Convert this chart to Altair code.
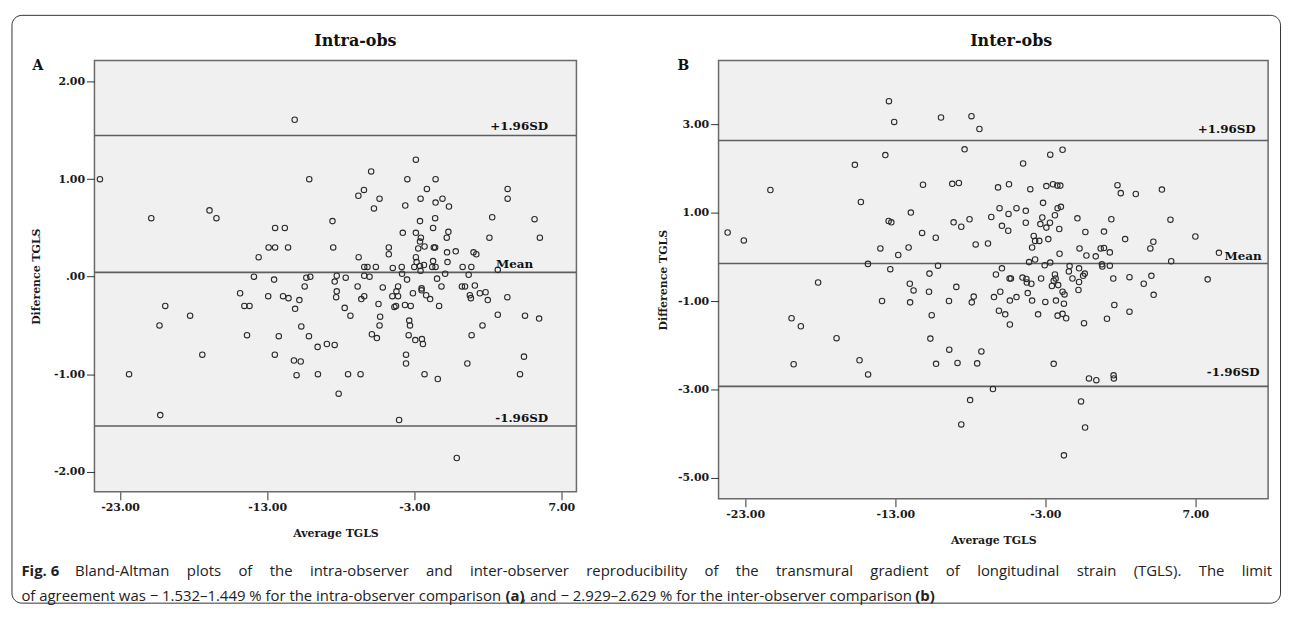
import altair as alt
import pandas as pd

# ---------------- data ----------------
# Panel A (intra-observer): average TGLS vs difference TGLS
A_AVG = [-11.13, -24.37, -10.14, -20.88, -16.92, -16.45, -12.46, -11.80, -12.90, -12.46,
         -11.58, -13.58, -13.90, -12.53, -10.34, -10.07, -10.45, -14.84, -12.93, -11.92,
         -11.55, -10.81, -11.10, -14.55, -14.20, -19.93, -20.32, -18.24, -10.68, -14.37,
         -12.21, -10.16, -17.41, -12.48, -9.57, -11.18, -10.72, -11.00, -9.55, -22.39,
         -20.27, -2.89, -5.93, -3.47, -1.55, -2.14, -6.80, -6.42, -5.36, -5.74,
         -2.57, -1.55, -1.08, -0.64, -3.61, -8.56, -2.61, -1.58, -1.72, -3.78,
         -2.89, -0.68, -0.79, -2.55, -2.61, -2.73, -2.30, -1.67, -1.58, -8.51,
         -6.78, -4.73, -4.73, -0.77, -0.18, 1.03, 1.22, -2.89, -2.84, -1.72,
         -0.74, -6.40, -6.18, -5.61, -4.46, -3.85, -3.00, -2.61, -2.57, -2.34,
         -1.78, -1.55, 0.29, 0.88, -0.90, 0.70, -3.83, -6.40, -6.04, -8.27,
         -8.41, -7.66, -3.49, -1.45, -6.85, -5.14, -4.10, -1.15, 0.24, 0.45,
         1.12, -8.27, -8.31, -7.73, -7.34, -6.60, -6.40, -5.43, -4.49, -4.10,
         -4.21, -4.35, -4.24, -3.63, -3.24, -3.09, -2.50, -2.50, -2.19, -1.92,
         -1.31, 0.78, 0.85, 1.46, 1.85, 2.00, -5.32, -5.36, -3.34, -3.29,
         -3.38, -5.88, -5.54, -2.93, -2.48, -2.41, 0.90, 1.64, -8.94, -8.41,
         -7.50, -6.65, -3.56, -3.56, -2.30, -1.40, 0.61, 5.18, 5.54, 3.35,
         3.35, 2.30, 2.11, 2.68, 3.33, 2.68, 4.53, 5.49, 4.46, 4.19,
         -4.03, -0.11, -8.14]
A_DIFF = [1.61, 1.00, 1.00, 0.60, 0.68, 0.60, 0.50, 0.50, 0.30, 0.30,
          0.30, 0.20, 0.00, -0.03, -0.01, 0.00, -0.10, -0.17, -0.20, -0.20,
          -0.22, -0.24, -0.33, -0.30, -0.30, -0.30, -0.50, -0.40, -0.51, -0.60,
          -0.61, -0.61, -0.80, -0.80, -0.72, -0.86, -0.87, -1.01, -1.00, -1.00,
          -1.42, 1.20, 1.08, 1.00, 1.00, 0.90, 0.83, 0.89, 0.80, 0.70,
          0.80, 0.76, 0.80, 0.72, 0.73, 0.57, 0.57, 0.60, 0.50, 0.45,
          0.45, 0.46, 0.40, 0.40, 0.36, 0.29, 0.31, 0.30, 0.30, 0.30,
          0.20, 0.30, 0.23, 0.25, 0.26, 0.25, 0.23, 0.20, 0.15, 0.16,
          0.15, 0.10, 0.10, 0.10, 0.09, 0.10, 0.10, 0.11, 0.06, 0.12,
          0.10, 0.10, 0.10, 0.10, 0.03, 0.02, 0.03, 0.01, 0.00, 0.01,
          -0.05, -0.01, -0.03, -0.02, -0.10, -0.11, -0.10, -0.10, -0.10, -0.10,
          -0.09, -0.15, -0.21, -0.32, -0.40, -0.23, -0.20, -0.28, -0.20, -0.20,
          -0.15, -0.31, -0.30, -0.29, -0.30, -0.17, -0.12, -0.14, -0.19, -0.23,
          -0.30, -0.19, -0.22, -0.17, -0.16, -0.24, -0.41, -0.50, -0.45, -0.50,
          -0.60, -0.59, -0.63, -0.65, -0.64, -0.69, -0.60, -0.50, -0.69, -0.70,
          -1.00, -1.00, -0.80, -0.89, -1.00, -1.05, -0.89, 0.59, 0.40, 0.90,
          0.80, 0.61, 0.40, 0.07, -0.21, -0.39, -0.40, -0.43, -0.82, -1.00,
          -1.47, -1.86, -1.20]

# Panel B (inter-observer)
B_AVG = [-13.42, -13.07, -9.95, -8.38, -13.66, -15.69, -21.32, -11.15, -9.20, -8.76,
         -15.29, -11.96, -13.44, -13.26, -24.17, -23.09, -11.21, -10.30, -9.11, -8.60,
         -13.99, -12.80, -12.11, -14.82, -13.33, -18.14, -12.03, -11.78, -10.72, -10.15,
         -10.75, -8.93, -13.88, -12.01, -9.42, -19.91, -19.29, -10.57, -16.91, -10.66,
         -9.40, -15.38, -19.77, -10.28, -8.85, -14.81, -8.60, -7.92, -7.39, -4.48,
         -2.67, -1.85, -6.15, -5.42, -4.00, -2.93, -2.49, -2.20, -2.00, -3.15,
         -6.05, -4.92, -4.30, -5.45, -2.18, -1.96, -2.36, -2.07, -3.20, -3.33,
         -2.69, -2.93, -4.30, -6.60, -5.89, -5.47, -0.86, -0.33, 0.91, 1.40,
         -8.05, -7.64, -6.82, -3.77, -3.68, -3.40, -3.88, -2.80, -2.05, -0.72,
         -0.26, 0.36, 0.69, 0.91, 1.30, -7.90, -7.77, -6.42, -6.00, -5.36,
         -4.92, -6.09, -5.67, -5.36, -7.26, -5.89, -6.29, -5.38, -5.29, -4.52,
         -4.26, -4.23, -3.93, -4.08, -3.68, -3.04, -2.67, -3.28, -2.36, -2.31,
         -2.44, -2.14, -2.56, -4.17, -3.88, -3.00, -2.29, -1.85, -1.72, -1.76,
         -3.48, -2.18, -1.85, -1.61, -0.42, 1.11, -1.38, -1.43, -1.19, -0.75,
         -0.37, -0.48, -0.75, -0.79, 0.77, 0.80, 1.30, 1.53, 1.60, 1.81,
         2.03, 3.03, 4.77, 5.34, 7.00, 8.57, 2.32, 4.20, 4.00, 5.39,
         7.82, 3.56, 4.07, 4.22, 2.61, 2.61, -7.54, -2.44, -0.09, 0.40,
         1.55, 1.57, -6.49, -8.01, -0.62, -0.35, -1.76]
B_DIFF = [3.52, 3.05, 3.15, 2.43, 2.30, 2.08, 1.51, 1.63, 1.65, 1.67,
          1.24, 1.00, 0.81, 0.78, 0.55, 0.37, 0.54, 0.43, 0.78, 0.68,
          0.19, 0.04, 0.21, -0.16, -0.28, -0.58, -0.61, -0.76, -0.38, -0.20,
          -0.79, -0.68, -1.00, -1.03, -1.00, -1.39, -1.57, -1.32, -1.84, -1.85,
          -2.10, -2.34, -2.43, -2.42, -2.40, -2.66, -3.79, 3.18, 2.89, 2.11,
          2.31, 2.42, 1.57, 1.64, 1.53, 1.60, 1.64, 1.61, 1.61, 1.22,
          1.10, 1.10, 1.04, 0.97, 1.10, 1.13, 0.94, 0.63, 0.89, 0.74,
          0.77, 0.66, 0.77, 0.90, 0.70, 0.59, 0.87, 0.56, 0.57, 0.85,
          0.85, 0.28, 0.30, 0.47, 0.36, 0.36, 0.21, 0.40, 0.07, 0.19,
          0.03, 0.01, 0.19, 0.20, 0.10, -1.03, -0.90, -0.91, -0.79, -0.99,
          -0.91, -1.22, -1.30, -1.53, -2.14, -0.26, -0.40, -0.49, -0.49, -0.47,
          -0.50, -0.58, -0.61, -0.12, -0.06, -0.19, -0.13, -0.49, -0.40, -0.49,
          -0.54, -0.64, -0.66, -0.82, -0.99, -1.02, -0.99, -0.79, -0.85, -1.06,
          -1.30, -1.33, -1.29, -1.39, -1.50, -1.40, -0.21, -0.33, -0.49, -0.26,
          -0.38, -0.43, -0.57, -0.75, -0.17, -0.22, -0.20, -0.49, -1.09, 1.62,
          1.44, 1.42, 1.52, 0.84, 0.46, 0.09, 0.40, 0.34, 0.19, -0.10,
          -0.51, -0.61, -0.43, -0.86, -0.46, -1.24, -2.41, -2.42, -2.75, -2.79,
          -2.68, -2.75, -2.99, -3.24, -3.27, -3.86, -4.49]

# reference lines (+1.96SD, mean, -1.96SD)
LINE_LABELS = ["+1.96SD", "Mean", "-1.96SD"]
A_LINES = [1.449, 0.044, -1.532]
B_LINES = [2.629, -0.15, -2.929]

X_TICKS = [-23, -13, -3, 7]
A_YTICKS = [-2, -1, 0, 1, 2]
B_YTICKS = [-5, -3, -1, 1, 3]

CAPTION_BOLD_1 = "Fig. 6"
CAPTION_1_WORDS = ["Bland-Altman", "plots", "of", "the", "intra-observer", "and", "inter-observer",
                   "reproducibility", "of", "the", "transmural", "gradient", "of", "longitudinal",
                   "strain", "(TGLS).", "The", "limit"]
CAPTION_2A = "of agreement was \u2212 1.532\u20131.449 % for the intra-observer comparison"
CAPTION_2B = "(a)"
CAPTION_2C = ", and \u2212 2.929\u20132.629 % for the inter-observer comparison"
CAPTION_2D = "(b)"

# ---------------- styling ----------------
SERIF = "DejaVu Serif"
SANS = "Open Sans"
LBL = "(datum.value < 0 ? '-' : '') + (datum.value == 0 ? '' : format(abs(datum.value), 'd')) + '.00'"
JUSTIFY_SPACE = "\u2003\u2009"   # widened word gap: first caption line is justified

A_W, A_H = 485, 434
B_W, B_H = 553, 441


def one(text):
    return pd.DataFrame({"t": [text]})


def panel(avg, diff, lines, xdom, ydom, yticks, w, h, title, title_x, letter, letter_x,
          ytitle, ytitle_pad, lab_x, lab_dy):
    pts = pd.DataFrame({"avg": avg, "diff": diff})
    x = alt.X("avg:Q", scale=alt.Scale(domain=xdom, nice=False, zero=False),
              axis=alt.Axis(values=X_TICKS, title="Average TGLS", labelExpr=LBL,
                            titlePadding=15))
    y = alt.Y("diff:Q", scale=alt.Scale(domain=ydom, nice=False, zero=False),
              axis=alt.Axis(values=yticks, title=ytitle, labelExpr=LBL,
                            titlePadding=ytitle_pad))
    points = alt.Chart(pts).mark_point(
        shape="circle", filled=False, size=30, stroke="#2a2a2a", strokeWidth=1.1, opacity=1
    ).encode(x=x, y=y)
    ldf = pd.DataFrame({"diff": lines})
    rules = alt.Chart(ldf).mark_rule(color="#5e5e5e", strokeWidth=1.6).encode(y="diff:Q")
    layers = [rules, points]
    for i, lab in enumerate(LINE_LABELS):
        layers.append(
            alt.Chart(pd.DataFrame({"diff": [lines[i]], "lab": [lab]})).mark_text(
                align="right", baseline="alphabetic", dy=lab_dy[i], font=SERIF,
                fontWeight="bold", fontSize=12, color="#111"
            ).encode(x=alt.value(lab_x[i]), y="diff:Q", text="lab:N")
        )
    layers.append(alt.Chart(one(letter)).mark_text(
        align="center", baseline="middle", font=SERIF, fontWeight="bold", fontSize=14,
        color="#111"
    ).encode(x=alt.value(letter_x), y=alt.value(6), text="t:N"))
    layers.append(alt.Chart(one(title)).mark_text(
        align="center", baseline="alphabetic", font=SERIF, fontWeight="bold", fontSize=16,
        color="#111"
    ).encode(x=alt.value(title_x), y=alt.value(-15), text="t:N"))
    return layers


la = panel(A_AVG, A_DIFF, A_LINES, [-24.743, 8.027], [-2.207, 2.217], A_YTICKS, A_W, A_H,
           "Intra-obs", 262.5, "A", -57, "Diference TGLS", 12,
           [456.5, 441.5, 456.5], [-5, -4, -4])
lb = panel(B_AVG, B_DIFF, B_LINES, [-24.775, 11.847], [-5.472, 4.438], B_YTICKS, B_W, B_H,
           "Inter-obs", 294.5, "B", -35.5, "Difference TGLS", 9,
           [540.5, 546.5, 544.5], [-7.5, -3.5, -10.5])

# caption and outer frame, drawn in panel A's coordinate space
frame = alt.Chart(one("")).mark_rect(
    fillOpacity=0, stroke="#333", strokeWidth=1, cornerRadius=10
).encode(x=alt.value(-83), x2=alt.value(1193.5), y=alt.value(-45.5), y2=alt.value(546))

cap_style = dict(align="left", baseline="middle", font=SANS, fontSize=15, color="#222")
cap_bold = dict(align="left", baseline="middle", font=SANS, fontSize=15, fontWeight="bold",
                color="#222")
LINE1_Y, LINE2_Y = 513.5, 539
c1 = alt.Chart(one(CAPTION_BOLD_1)).mark_text(**cap_bold).encode(
    x=alt.value(-73.5), y=alt.value(LINE1_Y), text="t:N")
c2 = alt.Chart(one(JUSTIFY_SPACE.join(CAPTION_1_WORDS))).mark_text(**cap_style).encode(
    x=alt.value(-19.5), y=alt.value(LINE1_Y), text="t:N")
c3 = alt.Chart(one(CAPTION_2A)).mark_text(**cap_style).encode(
    x=alt.value(-73.5), y=alt.value(LINE2_Y), text="t:N")
c4 = alt.Chart(one(CAPTION_2B)).mark_text(**cap_bold).encode(
    x=alt.value(413.5), y=alt.value(LINE2_Y), text="t:N")
c5 = alt.Chart(one(CAPTION_2C)).mark_text(**cap_style).encode(
    x=alt.value(430.5), y=alt.value(LINE2_Y), text="t:N")
c6 = alt.Chart(one(CAPTION_2D)).mark_text(**cap_bold).encode(
    x=alt.value(826), y=alt.value(LINE2_Y), text="t:N")

pa_full = alt.layer(*la, frame, c1, c2, c3, c4, c5, c6).properties(width=A_W, height=A_H)
pb_full = alt.layer(*lb).properties(width=B_W, height=B_H)

chart = alt.hconcat(pa_full, pb_full, spacing=143, bounds="flush").properties(
    padding={"left": 2, "top": 4, "right": 2, "bottom": 0}
).configure_view(
    fill="#f0f0f0", stroke="#6a6a6a", strokeWidth=1.5
).configure_axis(
    labelFont=SERIF, labelFontWeight="bold", labelFontSize=11, labelColor="#1a1a1a",
    titleFont=SERIF, titleFontWeight="bold", titleFontSize=11, titleColor="#1a1a1a",
    tickColor="#333", tickSize=8, tickWidth=1, domain=False, grid=False, labelPadding=2
)

chart.save("out.html", embed_options={"renderer": "svg", "actions": False})
